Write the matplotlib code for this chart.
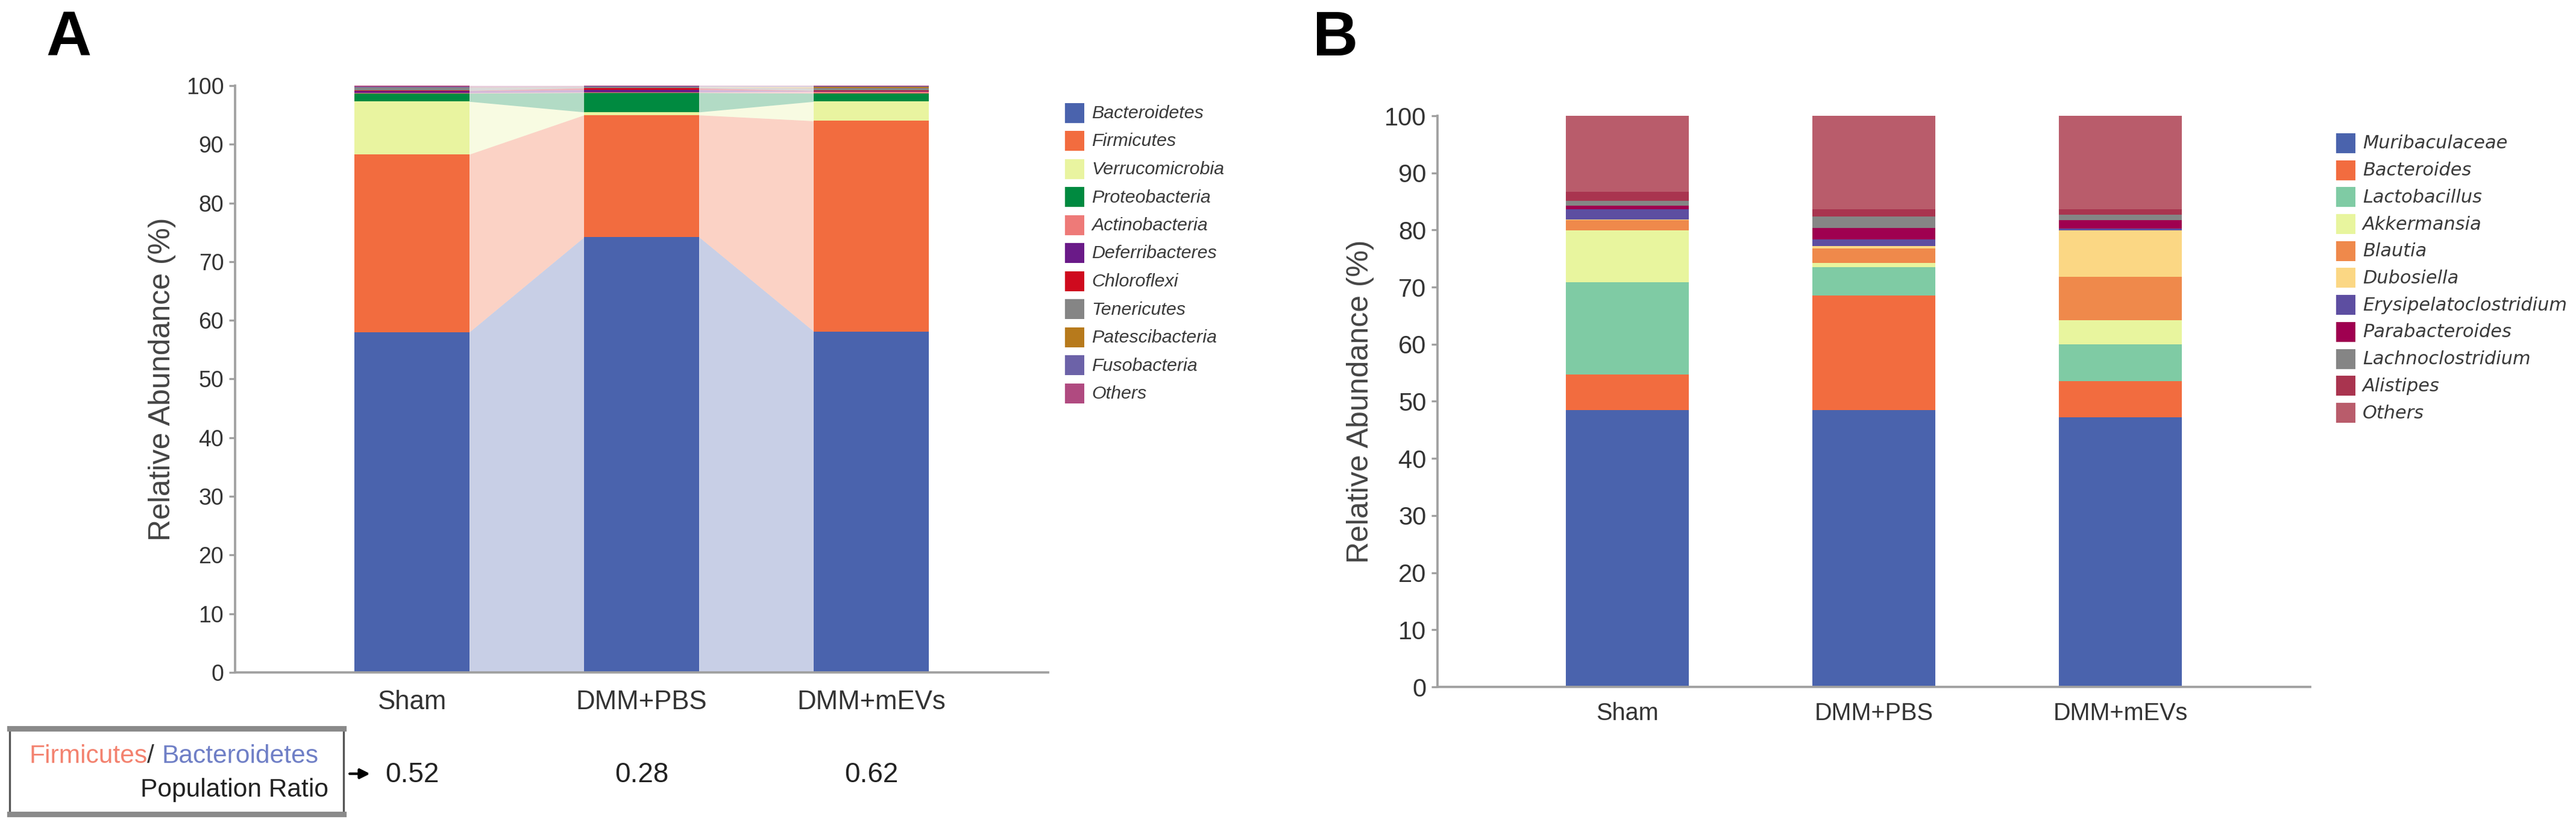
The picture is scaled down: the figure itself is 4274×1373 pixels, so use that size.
import numpy as np
import matplotlib
matplotlib.use("Agg")
import matplotlib.pyplot as plt
from matplotlib.patches import Rectangle

# ------------------ DATA ------------------

groups = ["Sham", "DMM+PBS", "DMM+mEVs"]

phyla = ["Bacteroidetes", "Firmicutes", "Verrucomicrobia", "Proteobacteria",
         "Actinobacteria", "Deferribacteres", "Chloroflexi", "Tenericutes",
         "Patescibacteria", "Fusobacteria", "Others"]
phyla_sham = [58.0, 30.3, 9.0, 1.4, 0.1, 0.3, 0.05, 0.5, 0.05, 0.05, 0.25]
phyla_pbs = [74.2, 20.8, 0.5, 3.3, 0.1, 0.4, 0.3, 0.15, 0.05, 0.05, 0.15]
phyla_mevs = [58.1, 35.9, 3.3, 1.4, 0.3, 0.1, 0.05, 0.4, 0.25, 0.05, 0.15]
phyla_colors = ["#4a63ad", "#f26c3f", "#e9f4a0", "#008a40", "#ee7a78",
                "#6a1a88", "#cf0a1e", "#858585", "#b77a1c", "#6c62a8", "#b04a80"]

ratio_labels = ["0.52", "0.28", "0.62"]

genera = ["Muribaculaceae", "Bacteroides", "Lactobacillus", "Akkermansia",
          "Blautia", "Dubosiella", "Erysipelatoclostridium", "Parabacteroides",
          "Lachnoclostridium", "Alistipes", "Others"]
genera_sham = [48.5, 6.2, 16.2, 9.0, 1.8, 0.1, 1.8, 0.7, 0.8, 1.6, 13.3]
genera_pbs = [48.5, 20.0, 5.0, 0.7, 2.6, 0.4, 1.2, 2.0, 2.0, 1.2, 16.4]
genera_mevs = [47.2, 6.3, 6.5, 4.2, 7.6, 8.1, 0.4, 1.4, 1.0, 0.9, 16.4]
genera_colors = ["#4a63ad", "#f26c3f", "#7fcba4", "#e8f59e", "#ef894b",
                 "#fbd784", "#5d4ea1", "#9f0050", "#858585", "#a9344f", "#b95c6b"]

# ------------------ LAYOUT ------------------

W, H = 4274, 1373
DPI = 300
REG = ["Liberation Sans", "DejaVu Sans"]
GREY = "#a0a0a0"
TXT = "#333333"


def fx(px):
    return px / W


def fy(py):
    return 1 - py / H


def stacked(ax, table, colors, ribbons):
    data = np.array(table).T  # layers x groups
    x = np.arange(data.shape[1])
    bottoms = np.zeros(data.shape[1])
    for k in range(data.shape[0]):
        ax.bar(x, data[k], width=0.5, bottom=bottoms, color=colors[k],
               linewidth=0, zorder=2)
        if ribbons:
            tops = bottoms + data[k]
            for i in range(len(x) - 1):
                xs = [x[i] + 0.25, x[i + 1] - 0.25]
                ax.fill_between(xs, [bottoms[i], bottoms[i + 1]],
                                [tops[i], tops[i + 1]], color=colors[k],
                                alpha=0.3, linewidth=0, zorder=1)
        bottoms = bottoms + data[k]
    return x


def style_axis(ax, labels, tick_size, xsize, xpad):
    ax.set_ylim(0, 100)
    ax.set_xlim(-0.77, 2.77)
    ax.set_yticks(np.arange(0, 101, 10))
    for s in ["top", "right"]:
        ax.spines[s].set_visible(False)
    for s in ["left", "bottom"]:
        ax.spines[s].set_color(GREY)
        ax.spines[s].set_linewidth(0.9)
    ax.tick_params(axis="y", length=2.5, width=0.8, color=GREY, pad=2,
                   labelcolor=TXT)
    ax.tick_params(axis="x", length=0, pad=xpad, labelcolor=TXT)
    for t in ax.get_yticklabels():
        t.set_family(REG)
        t.set_fontsize(tick_size)
    ax.set_xticks(range(len(labels)))
    ax.set_xticklabels(labels, family=REG, fontsize=xsize)


def legend(names, colors, x0, y0, step, size, family):
    for i, (n, c) in enumerate(zip(names, colors)):
        yc = y0 + i * step
        fig.add_artist(Rectangle((fx(x0), fy(yc + 16)), fx(32), 33 / H,
                                 color=c, linewidth=0,
                                 transform=fig.transFigure))
        fig.text(fx(x0 + 44), fy(yc), n, fontsize=size, style="italic",
                 family=family, color="#3a3a3a", va="center", ha="left")


fig = plt.figure(figsize=(W / DPI, H / DPI), dpi=DPI)

# ------------------ PANEL A ------------------

axA = fig.add_axes([fx(390), fy(1115), fx(1739 - 390), (1115 - 142) / H])
xA = stacked(axA, [phyla_sham, phyla_pbs, phyla_mevs], phyla_colors, True)
style_axis(axA, groups, 9, 10.5, 7)
axA.set_ylabel("Relative Abundance (%)", family=REG, fontsize=12,
               color="#444444", labelpad=4)
legend(phyla, phyla_colors, 1767, 188, 46.5, 7.3, REG)

fig.text(fx(76), fy(65), "A", fontsize=25, fontweight="bold",
         family=REG, va="center", ha="left")

# ratio box
fig.add_artist(Rectangle((fx(16), fy(1350)), fx(554), (1350 - 1208) / H,
                         fill=False, edgecolor="#555555", linewidth=0.8,
                         transform=fig.transFigure))
for yy in (1208, 1350):
    fig.add_artist(plt.Line2D([fx(16), fx(570)], [fy(yy), fy(yy)],
                              color="#8a8a8a", linewidth=2.2,
                              transform=fig.transFigure))

fig.canvas.draw()
rend = fig.canvas.get_renderer()
xr = fx(528)
for part, col in [("Bacteroidetes", "#6f7fc6"), ("/ ", "#333333"),
                  ("Firmicutes", "#f3826f")]:
    t = fig.text(xr, fy(1254), part, fontsize=10.2, family=REG, color=col,
                 ha="right", va="center")
    bb = t.get_window_extent(renderer=rend)
    xr = bb.x0 / W
fig.text(fx(545), fy(1310), "Population Ratio", fontsize=10.2, family=REG,
         color="#222222", ha="right", va="center")
fig.add_artist(plt.annotate("", xy=(fx(622), fy(1283)),
                            xytext=(fx(572), fy(1283)),
                            xycoords="figure fraction",
                            arrowprops=dict(arrowstyle="-|>", color="black",
                                            lw=1.0, mutation_scale=8)))
for i, r in enumerate(ratio_labels):
    axA.text(xA[i], -0.175, r, transform=axA.get_xaxis_transform(),
             fontsize=11, family=REG, color="#222222",
             ha="center", va="center")

# ------------------ PANEL B ------------------

axB = fig.add_axes([fx(2385), fy(1139), fx(3833 - 2385), (1139 - 192) / H])
stacked(axB, [genera_sham, genera_pbs, genera_mevs], genera_colors, False)
style_axis(axB, groups, 10, 9.5, 6)
axB.set_ylabel("Relative Abundance (%)", family=REG, fontsize=12,
               color="#444444", labelpad=4)
legend(genera, genera_colors, 3876, 238, 44.7, 7.3, ["DejaVu Sans"])

fig.text(fx(2178), fy(65), "B", fontsize=25, fontweight="bold",
         family=REG, va="center", ha="left")

fig.savefig("out.png", dpi=DPI)
